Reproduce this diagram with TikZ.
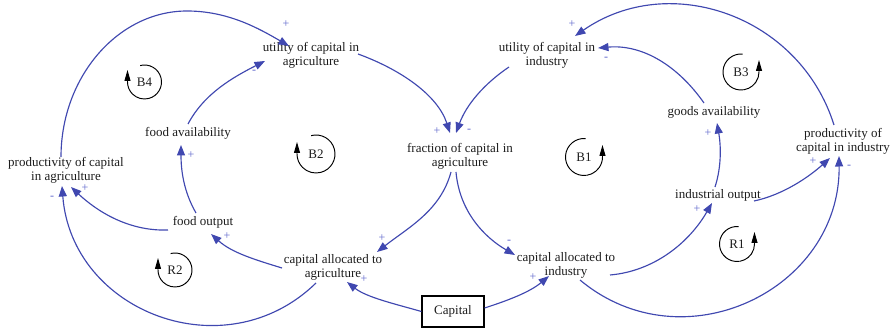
\documentclass[tikz,border=0pt]{standalone}
\usepackage{fontspec}
\setmainfont{Liberation Serif}
\usetikzlibrary{arrows.meta}
\definecolor{linkblue}{RGB}{64,72,176}
\definecolor{signblue}{RGB}{96,104,204}
\definecolor{ink}{RGB}{28,28,28}
\begin{document}
\begin{tikzpicture}[x=1pt,y=1pt,
  var/.style={font=\fontsize{13}{14}\selectfont, text=ink, align=center, inner sep=1pt},
  stock/.style={var, draw=black, line width=1.2pt, minimum width=62pt, minimum height=31pt},
  link/.style={draw=linkblue, line width=1.15pt, -{Triangle[length=10.5pt,width=8pt]}},
  sign/.style={font=\fontsize{12}{12}\selectfont, text=signblue, inner sep=0pt},
  loopname/.style={font=\fontsize{13}{14}\selectfont, text=ink, inner sep=0pt},
  loopline/.style={draw=black, line width=0.95pt, -{Triangle[length=11pt,width=6pt]}}]
\useasboundingbox (0,0) rectangle (895,329);

% variables
\node[var] (ua) at (311,274) {utility of capital in\\agriculture};
\node[var] (ui) at (547,274) {utility of capital in\\industry};
\node[var] (fr) at (460,173) {fraction of capital in\\agriculture};
\node[var] (fa) at (188,196) {food availability};
\node[var] (fo) at (203,107) {food output};
\node[var] (pa) at (66,159) {productivity of capital\\in agriculture};
\node[var] (ca) at (333,62) {capital allocated to\\agriculture};
\node[stock] (cap) at (453,17.5) {Capital};
\node[var] (ci) at (566,64) {capital allocated to\\industry};
\node[var] (io) at (718,134) {industrial output};
\node[var] (ga) at (714,217) {goods availability};
\node[var] (pi) at (843,188) {productivity of\\capital in industry};

% causal links
\coordinate (topA) at (187,318);
\draw[link] ([shift={(-5,13)}]pa.center) .. controls +(0,80) and +(-69,0) .. (topA)
  .. controls +(41,0) and +(-30,17.5) .. ([shift={(-22,9)}]ua.center);
\draw[link] ([shift={(0,9)}]fa.center) .. controls +(16.4,30.9) and +(-31.2,-15.9) .. ([shift={(-46,-6)}]ua.center);
\draw[link] ([shift={(-7,9)}]fo.center) .. controls +(-12.5,21.7) and +(0,-25) .. ([shift={(-7,-12)}]fa.center);
\draw[link] ([shift={(-35,-8)}]fo.center) .. controls +(-40,-1.4) and +(25.6,-23.9) .. ([shift={(5,-17)}]pa.center);
\draw[link] ([shift={(-51,-1)}]ca.center) .. controls +(-26.8,8.2) and +(20.8,-18.7) .. ([shift={(8,-12)}]fo.center);
\draw[link] ([shift={(-17,-16)}]ca.center) .. controls +(-90.6,-88.4) and +(9.7,-126.2) .. ([shift={(-4,-16)}]pa.center);
\draw[link] (cap.west) .. controls +(-26.9,7.7) and +(19.7,-15.4) .. ([shift={(14,-15)}]ca.center);
\draw[link] ([shift={(0,3.5)}]cap.east) .. controls +(23.8,7.7) and +(-19.2,-16.1) .. ([shift={(-17,-11)}]ci.center);
\draw[link] ([shift={(-9,-16)}]fr.center) .. controls +(-10.4,-38.6) and +(31.5,24.6) .. ([shift={(44,15)}]ca.center);
\draw[link] ([shift={(-4,-16)}]fr.center) .. controls +(3.5,-39.8) and +(-30.3,17.5) .. ([shift={(-51,10)}]ci.center);
\draw[link] ([shift={(47,1)}]ua.center) .. controls +(42.3,-15.4) and +(-12.4,38) .. ([shift={(-10,23)}]fr.center);
\draw[link] ([shift={(-38,-12)}]ui.center) .. controls +(-24.9,-16.8) and +(10.3,28.2) .. ([shift={(-4,23)}]fr.center);
\draw[link] ([shift={(-10,9)}]ga.center) .. controls +(-25.8,36.9) and +(44.8,3.9) .. ([shift={(51,7)}]ui.center);
\draw[link] ([shift={(-9,16)}]pi.center) .. controls +(-34.3,109.4) and +(94.2,65.5) .. ([shift={(28,19)}]ui.center);
\draw[link] ([shift={(-3,8)}]io.center) .. controls +(6.8,20.9) and +(3.8,-21.7) .. ([shift={(3,-11)}]ga.center);
\draw[link] ([shift={(36,-6)}]io.center) .. controls +(29.3,6.2) and +(-20.8,-18.7) .. ([shift={(-13,-17)}]pi.center);
\draw[link] ([shift={(44,-10)}]ci.center) .. controls +(44.8,3.9) and +(-22.5,-39) .. ([shift={(-6,-8)}]io.center);
\draw[link] ([shift={(14,-15)}]ci.center) .. controls +(102.9,-86) and +(1.6,-134.1) .. ([shift={(-4,-15)}]pi.center);

% link polarities
\node[sign] (s1)  at (286,305) {+};
\node[sign] (s2)  at (254,257) {-};
\node[sign] (s3)  at (191,174) {+};
\node[sign] (s4)  at (85,141)  {+};
\node[sign] (s5)  at (227,93)  {+};
\node[sign] (s6)  at (52,131)  {-};
\node[sign] (s7)  at (364,50)  {+};
\node[sign] (s8)  at (533,52)  {+};
\node[sign] (s9)  at (382,91)  {+};
\node[sign] (s10) at (509,87)  {-};
\node[sign] (s11) at (437,198) {+};
\node[sign] (s12) at (469,198) {-};
\node[sign] (s13) at (606,270) {-};
\node[sign] (s14) at (572,305) {+};
\node[sign] (s15) at (708,196) {+};
\node[sign] (s16) at (813,168) {+};
\node[sign] (s17) at (697,120) {+};
\node[sign] (s18) at (849,162) {-};

% loop identifiers
\node[loopname] (b4) at (144.5,247) {B4};
\node[loopname] (b2) at (316,175) {B2};
\node[loopname] (r2) at (175,59) {R2};
\node[loopname] (b1) at (584,172) {B1};
\node[loopname] (b3) at (741,257) {B3};
\node[loopname] (r1) at (737,85) {R1};
\draw[loopline] ([shift={(105:17)}]b4.center) arc[start angle=105, end angle=-180, radius=17] -- ++(0,12);
\draw[loopline] ([shift={(105:19)}]b2.center) arc[start angle=105, end angle=-180, radius=19] -- ++(0,12);
\draw[loopline] ([shift={(105:17)}]r2.center) arc[start angle=105, end angle=-180, radius=17] -- ++(0,12);
\draw[loopline] ([shift={(85:18.5)}]b1.center) arc[start angle=85, end angle=360, radius=18.5] -- ++(0,12);
\draw[loopline] ([shift={(85:18)}]b3.center) arc[start angle=85, end angle=360, radius=18] -- ++(0,12);
\draw[loopline] ([shift={(85:17.5)}]r1.center) arc[start angle=85, end angle=360, radius=17.5] -- ++(0,12);
\end{tikzpicture}
\end{document}
